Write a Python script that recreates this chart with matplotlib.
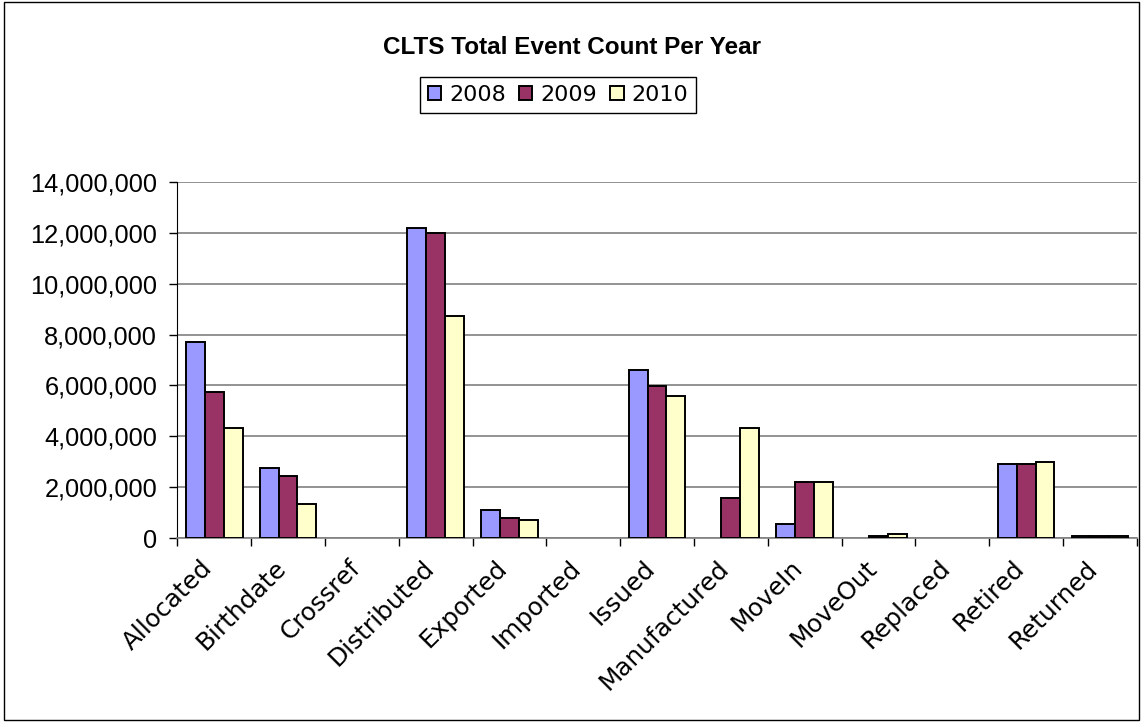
import matplotlib
matplotlib.use('agg')
import matplotlib.pyplot as plt
import matplotlib.transforms as mtransforms
import numpy as np
from matplotlib.patches import Rectangle
from matplotlib.ticker import FuncFormatter, FixedLocator

categories = ['Allocated', 'Birthdate', 'Crossref', 'Distributed', 'Exported', 'Imported',
              'Issued', 'Manufactured', 'MoveIn', 'MoveOut', 'Replaced', 'Retired', 'Returned']
years = ['2008', '2009', '2010']
v2008 = [7720000, 2740000, 0, 12190000, 1100000, 0, 6610000, 0, 540000, 0, 0, 2910000, 60000]
v2009 = [5740000, 2440000, 0, 11980000, 790000, 0, 5980000, 1570000, 2200000, 80000, 0, 2910000, 60000]
v2010 = [4330000, 1340000, 0, 8740000, 710000, 0, 5600000, 4320000, 2200000, 160000, 0, 3000000, 60000]
colors = ['#9999FF', '#993366', '#FFFFCC']

fig = plt.figure(figsize=(11.43, 7.26), dpi=100)
fig.patches.append(Rectangle((4 / 1143, 1 - 720 / 726), 1135 / 1143, 718 / 726,
                             transform=fig.transFigure, fill=False, edgecolor='black', linewidth=1))

ax = fig.add_axes([177.3 / 1143, 1 - 538 / 726, 959.5 / 1143, 356 / 726])
x = np.arange(len(categories))
w = 0.256
for i, (vals, c) in enumerate(zip([v2008, v2009, v2010], colors)):
    vals = np.array(vals, dtype=float)
    m = vals > 0  # zero bars are not drawn at all
    ax.bar(x[m] + (i - 1) * w, vals[m], w, color=c, edgecolor='black', linewidth=1.4,
           label=years[i], zorder=3)

ax.set_xlim(-0.5, len(categories) - 0.5)
ax.set_ylim(0, 14000000)
ax.set_yticks(np.arange(0, 14000001, 2000000))
ax.yaxis.set_major_formatter(FuncFormatter(lambda v, p: '{:,.0f}'.format(v)))
ax.grid(axis='y', color='#808080', linewidth=1.2, zorder=0)
ax.tick_params(axis='y', direction='out', length=6, width=1, pad=8.5, labelsize=18.3)
for lab in ax.get_yticklabels():
    lab.set_fontfamily('Liberation Sans')

ax.set_xticks(x)
ax.set_xticklabels(categories, rotation=45, ha='right', va='center', rotation_mode='anchor',
                   fontsize=17.8, family='DejaVu Sans')
ax.tick_params(axis='x', which='major', length=0, pad=12)
shift = mtransforms.ScaledTranslation(-4 / 72, -7 / 72, fig.dpi_scale_trans)
for lab in ax.get_xticklabels():
    lab.set_transform(lab.get_transform() + shift)
ax.xaxis.set_minor_locator(FixedLocator(np.arange(-0.5, len(categories), 1)))
ax.tick_params(axis='x', which='minor', direction='out', length=6, width=1)

ax.spines['top'].set_visible(False)
ax.spines['right'].set_visible(False)
ax.spines['left'].set_color('black')
ax.spines['bottom'].set_color('#808080')
ax.spines['bottom'].set_linewidth(1.2)

fig.text(572 / 1143, 1 - 47 / 726, 'CLTS Total Event Count Per Year', ha='center', va='center',
         fontsize=17.5, fontweight='bold', family='Liberation Sans')
leg = fig.legend(loc='center', bbox_to_anchor=(558 / 1143, 1 - 95 / 726), ncol=3, fontsize=16,
                 frameon=True, fancybox=False, edgecolor='black', framealpha=1,
                 handlelength=0.6, handleheight=0.6, handletextpad=0.35, columnspacing=0.6,
                 borderpad=0.35)
leg.get_frame().set_linewidth(1)

fig.savefig('out.png', dpi=100)
plt.close()
